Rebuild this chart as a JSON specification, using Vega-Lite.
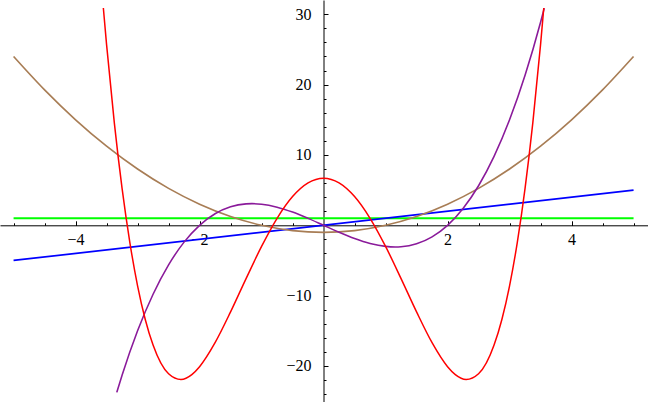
{
  "$schema": "https://vega.github.io/schema/vega-lite/v6.json",
  "width": 648,
  "height": 402,
  "padding": 0,
  "autosize": {"type": "none"},
  "background": "white",
  "config": {"view": {"stroke": null}},
  "data": {"values": [
    {"fn": "green", "x": -5, "y": 1}, {"fn": "green", "x": 5, "y": 1},
    {"fn": "blue", "x": -5, "y": -5}, {"fn": "blue", "x": 5, "y": 5},
    {"fn": "brown", "x": -5, "y": 24}, {"fn": "brown", "x": -4.5, "y": 19.25}, {"fn": "brown", "x": -4, "y": 15}, {"fn": "brown", "x": -3.5, "y": 11.25}, {"fn": "brown", "x": -3, "y": 8}, {"fn": "brown", "x": -2.5, "y": 5.25}, {"fn": "brown", "x": -2, "y": 3}, {"fn": "brown", "x": -1.5, "y": 1.25}, {"fn": "brown", "x": -1, "y": 0}, {"fn": "brown", "x": -0.5, "y": -0.75}, {"fn": "brown", "x": 0, "y": -1}, {"fn": "brown", "x": 0.5, "y": -0.75}, {"fn": "brown", "x": 1, "y": 0}, {"fn": "brown", "x": 1.5, "y": 1.25}, {"fn": "brown", "x": 2, "y": 3}, {"fn": "brown", "x": 2.5, "y": 5.25}, {"fn": "brown", "x": 3, "y": 8}, {"fn": "brown", "x": 3.5, "y": 11.25}, {"fn": "brown", "x": 4, "y": 15}, {"fn": "brown", "x": 4.5, "y": 19.25}, {"fn": "brown", "x": 5, "y": 24},
    {"fn": "purple", "x": -3.335, "y": -23.75}, {"fn": "purple", "x": -3.25, "y": -21.328}, {"fn": "purple", "x": -3, "y": -15}, {"fn": "purple", "x": -2.75, "y": -9.797}, {"fn": "purple", "x": -2.5, "y": -5.625}, {"fn": "purple", "x": -2.25, "y": -2.391}, {"fn": "purple", "x": -2, "y": 0}, {"fn": "purple", "x": -1.75, "y": 1.641}, {"fn": "purple", "x": -1.5, "y": 2.625}, {"fn": "purple", "x": -1.25, "y": 3.047}, {"fn": "purple", "x": -1.155, "y": 3.079}, {"fn": "purple", "x": -1, "y": 3}, {"fn": "purple", "x": -0.75, "y": 2.578}, {"fn": "purple", "x": -0.5, "y": 1.875}, {"fn": "purple", "x": -0.25, "y": 0.984}, {"fn": "purple", "x": 0, "y": 0}, {"fn": "purple", "x": 0.25, "y": -0.984}, {"fn": "purple", "x": 0.5, "y": -1.875}, {"fn": "purple", "x": 0.75, "y": -2.578}, {"fn": "purple", "x": 1, "y": -3}, {"fn": "purple", "x": 1.155, "y": -3.079}, {"fn": "purple", "x": 1.25, "y": -3.047}, {"fn": "purple", "x": 1.5, "y": -2.625}, {"fn": "purple", "x": 1.75, "y": -1.641}, {"fn": "purple", "x": 2, "y": 0}, {"fn": "purple", "x": 2.25, "y": 2.391}, {"fn": "purple", "x": 2.5, "y": 5.625}, {"fn": "purple", "x": 2.75, "y": 9.797}, {"fn": "purple", "x": 3, "y": 15}, {"fn": "purple", "x": 3.25, "y": 21.328}, {"fn": "purple", "x": 3.5, "y": 28.875}, {"fn": "purple", "x": 3.56, "y": 30.88},
    {"fn": "red", "x": -3.552, "y": 30.9}, {"fn": "red", "x": -3.5, "y": 25.688}, {"fn": "red", "x": -3.375, "y": 14.566}, {"fn": "red", "x": -3.25, "y": 5.248}, {"fn": "red", "x": -3.125, "y": -2.425}, {"fn": "red", "x": -3, "y": -8.6}, {"fn": "red", "x": -2.875, "y": -13.421}, {"fn": "red", "x": -2.75, "y": -17.027}, {"fn": "red", "x": -2.5, "y": -21.113}, {"fn": "red", "x": -2.3, "y": -21.919}, {"fn": "red", "x": -2.125, "y": -21.226}, {"fn": "red", "x": -2, "y": -20.1}, {"fn": "red", "x": -1.75, "y": -16.69}, {"fn": "red", "x": -1.5, "y": -12.313}, {"fn": "red", "x": -1.25, "y": -7.577}, {"fn": "red", "x": -1, "y": -3}, {"fn": "red", "x": -0.75, "y": 0.998}, {"fn": "red", "x": -0.5, "y": 4.088}, {"fn": "red", "x": -0.25, "y": 6.035}, {"fn": "red", "x": 0, "y": 6.7}, {"fn": "red", "x": 0.25, "y": 6.035}, {"fn": "red", "x": 0.5, "y": 4.088}, {"fn": "red", "x": 0.75, "y": 0.998}, {"fn": "red", "x": 1, "y": -3}, {"fn": "red", "x": 1.25, "y": -7.577}, {"fn": "red", "x": 1.5, "y": -12.313}, {"fn": "red", "x": 1.75, "y": -16.69}, {"fn": "red", "x": 2, "y": -20.1}, {"fn": "red", "x": 2.125, "y": -21.226}, {"fn": "red", "x": 2.3, "y": -21.919}, {"fn": "red", "x": 2.5, "y": -21.113}, {"fn": "red", "x": 2.75, "y": -17.027}, {"fn": "red", "x": 2.875, "y": -13.421}, {"fn": "red", "x": 3, "y": -8.6}, {"fn": "red", "x": 3.125, "y": -2.425}, {"fn": "red", "x": 3.25, "y": 5.248}, {"fn": "red", "x": 3.375, "y": 14.566}, {"fn": "red", "x": 3.5, "y": 25.688}, {"fn": "red", "x": 3.552, "y": 30.9}
  ]},
  "layer": [
    {
      "mark": {"type": "line", "opacity": 0},
      "encoding": {
        "x": {"field": "x", "type": "quantitative",
          "scale": {"domain": [-5.219, 5.233], "nice": false, "zero": false},
          "axis": {"orient": "top", "values": [-5, -4.5, -4, -3.5, -3, -2.5, -2, -1.5, -1, -0.5, 0.5, 1, 1.5, 2, 2.5, 3, 3.5, 4, 4.5, 5], "tickSize": 2.5, "tickColor": "black", "labels": false, "domain": false, "grid": false, "title": null, "offset": -225.3}},
        "y": {"field": "y", "type": "quantitative",
          "scale": {"domain": [-25.12, 32.03], "nice": false, "zero": false},
          "axis": {"orient": "right", "values": [-24, -22, -20, -18, -16, -14, -12, -10, -8, -6, -4, -2, 2, 4, 6, 8, 10, 12, 14, 16, 18, 20, 22, 24, 26, 28, 30], "tickSize": 2.5, "tickColor": "black", "labels": false, "domain": false, "grid": false, "title": null, "offset": -324.5}},
        "detail": {"field": "fn"}
      }
    },
    {
      "mark": {"type": "line", "interpolate": "monotone", "clip": true},
      "encoding": {
        "x": {"field": "x", "type": "quantitative",
          "axis": {"orient": "bottom", "values": [-4, -2, 2, 4], "tickSize": -4.5, "tickColor": "black", "domainColor": "black", "labelColor": "black", "labelFont": "'Liberation Serif', 'DejaVu Serif', serif", "labelFontSize": 16, "labelPadding": 11, "labelFlush": false, "labelOverlap": false, "grid": false, "title": null, "offset": -176.7}},
        "y": {"field": "y", "type": "quantitative",
          "axis": {"orient": "left", "values": [-20, -10, 10, 20, 30], "tickSize": -4.5, "tickColor": "black", "domainColor": "black", "labelColor": "black", "labelFont": "'Liberation Serif', 'DejaVu Serif', serif", "labelFontSize": 16, "labelPadding": 17, "labelFlush": false, "labelOverlap": false, "grid": false, "title": null, "offset": -323.5}},
        "color": {"field": "fn", "type": "nominal", "legend": null,
          "scale": {"domain": ["green", "blue", "brown", "purple", "red"], "range": ["#00ff00", "#0000ff", "#a87d55", "#8a1a9a", "#ff0000"]}},
        "strokeWidth": {"field": "fn", "type": "nominal", "legend": null,
          "scale": {"domain": ["green", "blue", "brown", "purple", "red"], "range": [1.8, 1.5, 1, 1.3, 1.1]}}
      }
    }
  ],
  "resolve": {"axis": {"x": "independent", "y": "independent"}}
}
